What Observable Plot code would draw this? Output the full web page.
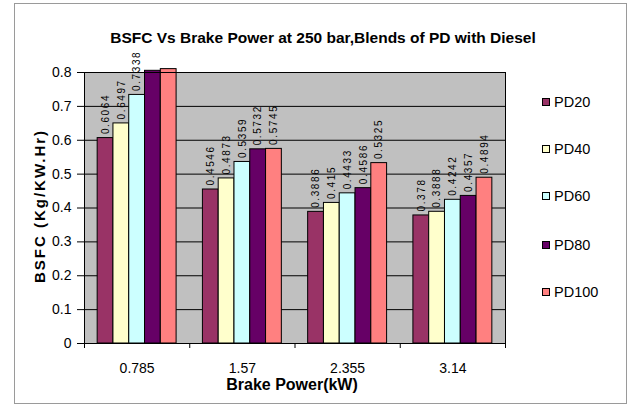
<!DOCTYPE html>
<html><head><meta charset="utf-8">
<script src="https://cdn.jsdelivr.net/npm/d3@7"></script>
<script src="https://cdn.jsdelivr.net/npm/@observablehq/plot@0.6"></script>
<style>
body{margin:0;background:#fff;}
#wrap{position:relative;width:630px;height:407px;background:#fff;font-family:"Liberation Sans",Arial,sans-serif;color:#000;}
#wrap svg{position:absolute;left:0;top:0;}
#border{position:absolute;left:14px;top:3px;width:613px;height:401px;border:1px solid #9a9a9a;box-sizing:border-box;}
#title{position:absolute;top:38px;left:323px;transform:translate(-50%,-50%);font-weight:bold;font-size:15.5px;white-space:nowrap;}
#ylab{position:absolute;left:39px;top:206px;transform:translate(-50%,-50%) rotate(-90deg);font-weight:bold;font-size:15px;letter-spacing:2px;white-space:nowrap;}
#xlab{position:absolute;left:292px;top:385px;transform:translate(-50%,-50%);font-weight:bold;font-size:16px;white-space:nowrap;}
.item{position:absolute;left:542px;font-size:14.5px;display:flex;align-items:center;transform:translateY(-50%);}
.sw{width:6px;height:6px;border:1px solid #000;margin-right:4px;}
.vlab text{letter-spacing:1.6px;}
</style>
</head><body>
<div id="wrap">
<div id="border"></div>
</div>
<script>
const groups = ["0.785", "1.57", "2.355", "3.14"];
const seriesNames = ["PD20", "PD40", "PD60", "PD80", "PD100"];
const pd20  = [0.6064, 0.4546, 0.3886, 0.3780];
const pd40  = [0.6497, 0.4873, 0.4150, 0.3888];
const pd60  = [0.7338, 0.5359, 0.4433, 0.4242];
const pd80  = [0.8050, 0.5732, 0.4586, 0.4357];
const pd100 = [0.8100, 0.5745, 0.5325, 0.4894];
const yTicks = [0, 0.1, 0.2, 0.3, 0.4, 0.5, 0.6, 0.7, 0.8];
const colors = ["#993366", "#FFFFCC", "#CCFFFF", "#660066", "#FF8080"];
const titleText = "BSFC Vs Brake Power at 250 bar,Blends of PD with Diesel";
const yTitle = "BSFC (Kg/KW.Hr)";
const xTitle = "Brake Power(kW)";

const seriesValues = [pd20, pd40, pd60, pd80, pd100];
const groupPad = 0.125;
const barW = (1 - 2 * groupPad) / seriesNames.length;
const data = groups.flatMap((g, i) => seriesNames.map((s, j) => ({
  group: g, series: s, value: seriesValues[j][i],
  x1: i + groupPad + j * barW, x2: i + groupPad + (j + 1) * barW
})));

const chart = Plot.plot({
  width: 630, height: 407,
  marginLeft: 84, marginRight: 125, marginTop: 72, marginBottom: 64,
  style: {fontFamily: "'Liberation Sans', Arial, sans-serif", fontSize: "14px", background: "transparent", overflow: "visible"},
  x: {domain: [0, groups.length], axis: null},
  y: {domain: [0, 0.8], axis: null},
  color: {domain: seriesNames, range: colors},
  marks: [
    Plot.frame({fill: "#C0C0C0"}),
    Plot.gridY(yTicks, {stroke: "#000", strokeOpacity: 1}),
    Plot.rectY(data, {x1: "x1", x2: "x2", y: "value", fill: "series", stroke: "#000", strokeWidth: 1}),
    Plot.frame({stroke: "#000"}),
    Plot.axisY(yTicks, {tickSize: 7, tickPadding: 6, tickFormat: d => String(d), stroke: "#000", label: null}),
    Plot.axisX(d3.range(groups.length + 1), {tickSize: 5, tickFormat: () => "", stroke: "#000", label: null}),
    Plot.axisX(groups.map((g, i) => i + 0.5), {tickSize: 0, tickPadding: 20, tickFormat: d => groups[Math.floor(d)], label: null}),
    Plot.text(data.filter(d => d.value <= 0.8), {
      x: d => (d.x1 + d.x2) / 2, y: "value", text: d => String(d.value),
      rotate: -90, textAnchor: "start", dy: -4, fontSize: 10, className: "vlab"
    })
  ]
});

const wrap = document.getElementById("wrap");
wrap.appendChild(chart);
const add = (id, txt) => { const d = document.createElement("div"); d.id = id; d.textContent = txt; wrap.appendChild(d); };
add("title", titleText);
add("ylab", yTitle);
add("xlab", xTitle);
const legendY = [102, 149, 196, 245, 292];
seriesNames.forEach((s, j) => {
  const it = document.createElement("div");
  it.className = "item";
  it.style.top = legendY[j] + "px";
  const sw = document.createElement("div");
  sw.className = "sw"; sw.style.background = colors[j];
  it.appendChild(sw);
  const t = document.createElement("span"); t.textContent = s;
  it.appendChild(t);
  wrap.appendChild(it);
});
</script>
</body></html>
